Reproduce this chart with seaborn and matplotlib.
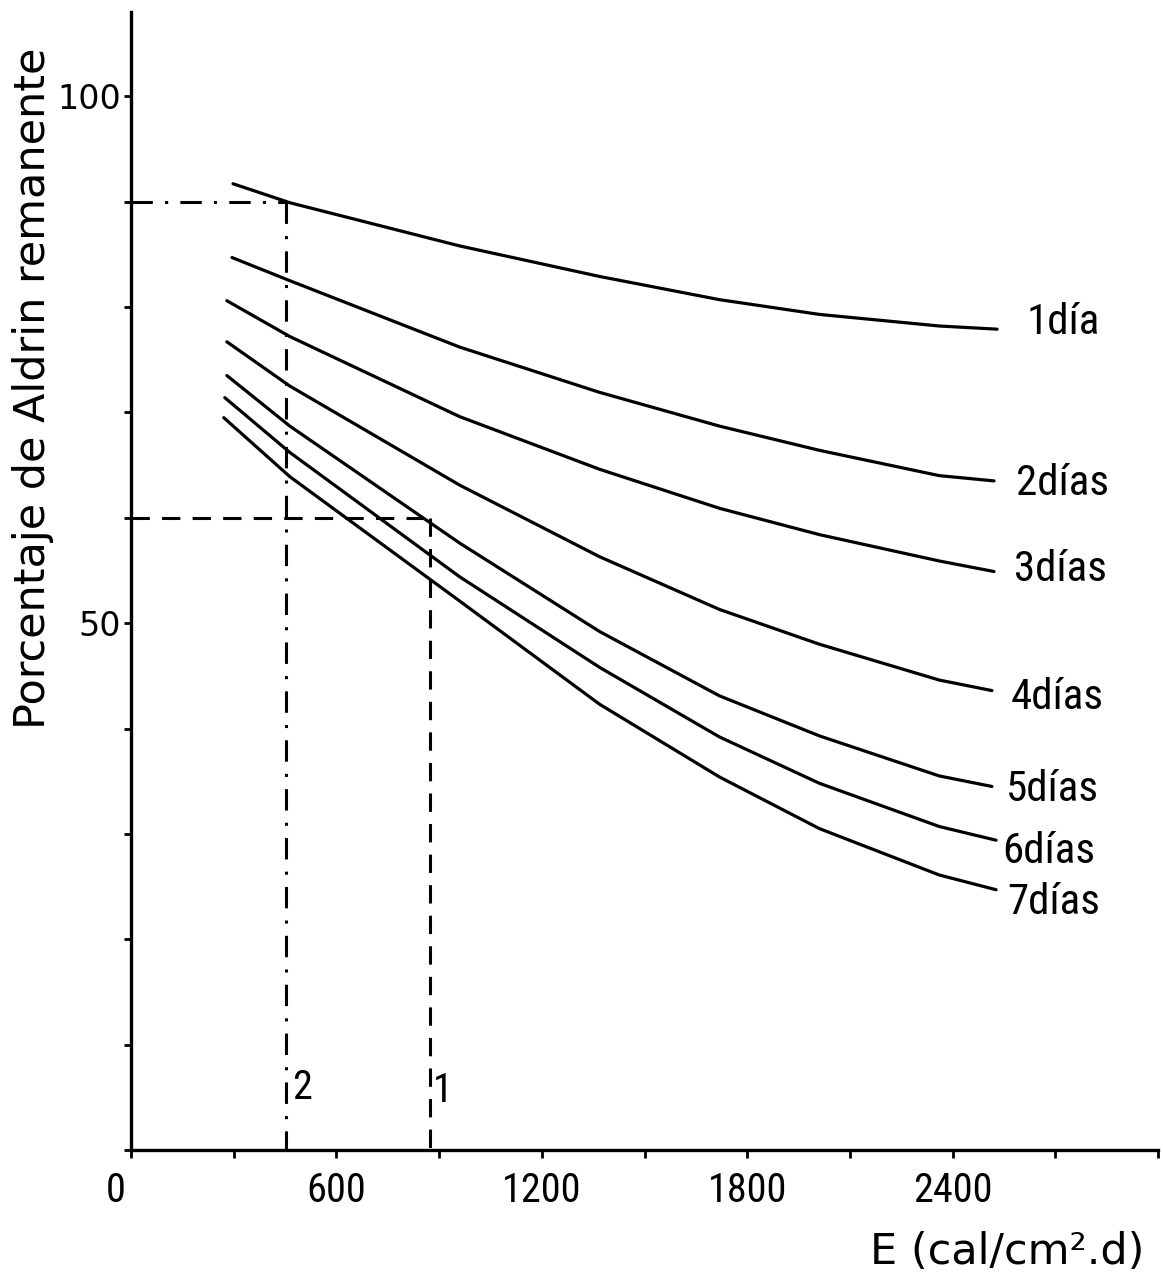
import numpy as np
import pandas as pd
import matplotlib
matplotlib.use("Agg")
import matplotlib.pyplot as plt
import seaborn as sns
from matplotlib.ticker import MultipleLocator
from matplotlib.transforms import ScaledTranslation
from matplotlib import font_manager

# ---------------- data ----------------
curve_labels = ["1día", "2días", "3días", "4días", "5días", "6días", "7días"]
energy_start = [298, 295, 280, 280, 280, 274, 271]
energy_mid = [464, 960, 1369, 1719, 2011, 2361]
energy_end = [2530, 2521, 2521, 2515, 2515, 2527, 2527]

dia1 = [91.7, 89.9, 85.8, 82.9, 80.7, 79.3, 78.2, 77.9]
dia2 = [84.7, 82.5, 76.2, 71.9, 68.7, 66.4, 64.0, 63.5]
dia3 = [80.6, 77.2, 69.6, 64.6, 60.9, 58.4, 55.9, 54.9]
dia4 = [76.7, 72.5, 63.1, 56.3, 51.3, 48.0, 44.6, 43.6]
dia5 = [73.5, 68.7, 57.6, 49.2, 43.1, 39.3, 35.5, 34.5]
dia6 = [71.4, 66.2, 54.4, 45.8, 39.2, 34.8, 30.7, 29.4]
dia7 = [69.5, 63.9, 52.1, 42.3, 35.4, 30.5, 26.1, 24.7]
all_curves = [dia1, dia2, dia3, dia4, dia5, dia6, dia7]

label_x = [2615, 2585, 2580, 2571, 2556, 2544, 2559]
label_y = [78.5, 63.3, 55.1, 42.9, 34.2, 28.3, 23.5]

# reference lines: 1 (dashed) and 2 (dash-dot)
ref1_energy = 872
ref1_pct = 60
ref2_energy = 452
ref2_pct = 90
ref_text = ["1", "2"]
ref_text_x = [910, 499]
ref_text_y = [5.6, 5.9]

x_major = [0, 600, 1200, 1800, 2400]
x_major_labels = ["0", "600", "1200", "1800", "2400"]
y_major = [50, 100]
y_major_labels = ["50", "100"]

# ---------------- build table ----------------
rows = []
for lab, es, ee, vals in zip(curve_labels, energy_start, energy_end, all_curves):
    es_all = [es] + energy_mid + [ee]
    for e, v in zip(es_all, vals):
        rows.append({"E": e, "pct": v, "curva": lab})
df = pd.DataFrame(rows)

# ---------------- style ----------------
sns.set_theme(style="ticks")
names = {f.name for f in font_manager.fontManager.ttflist}
narrow = None
for cand in ["Liberation Sans Narrow", "Roboto Condensed", "Open Sans Condensed",
             "DejaVu Sans Condensed", "Noto Sans Condensed"]:
    if cand in names:
        narrow = cand
        break
plt.rcParams["font.family"] = ["DejaVu Sans"]
for k in ["text.color", "axes.labelcolor", "xtick.color", "ytick.color", "axes.edgecolor"]:
    plt.rcParams[k] = "black"

if narrow:
    nfam = [narrow, "DejaVu Sans"]
    tick_size = 29
    lab_size = 31
    ref_size = 29
else:
    nfam = ["DejaVu Sans"]
    tick_size = 23
    lab_size = 24
    ref_size = 23

W, H = 1163, 1280
fig = plt.figure(figsize=(W / 100, H / 100), dpi=100)
ax = fig.add_axes([131 / W, 1 - 1150 / H, (1158 - 131) / W, (1150 - 12) / H])

sns.lineplot(data=df, x="E", y="pct", hue="curva", units="curva", estimator=None,
             sort=False, palette=["black"] * 7, linewidth=2.3, legend=False, ax=ax)

# reference lines
ax.plot([0, ref1_energy], [ref1_pct, ref1_pct], color="black", lw=2.2,
        linestyle=(0, (6, 4)))
ax.plot([ref1_energy, ref1_energy], [ref1_pct, 0], color="black", lw=2.2,
        linestyle=(0, (6, 4)))
ax.plot([0, ref2_energy], [ref2_pct, ref2_pct], color="black", lw=2.2,
        linestyle=(0, (7, 4, 1, 4)))
ax.plot([ref2_energy, ref2_energy], [ref2_pct, 0], color="black", lw=2.2,
        linestyle=(0, (7, 4, 1, 4)))

for t, x, y in zip(ref_text, ref_text_x, ref_text_y):
    ax.text(x, y, t, ha="center", va="center", fontsize=ref_size, family=nfam,
            color="black")

for t, x, y in zip(curve_labels, label_x, label_y):
    ax.text(x, y, t, ha="left", va="center", fontsize=lab_size, family=nfam,
            color="black")

ax.set_xlim(0, 3000)
ax.set_ylim(0, 108)
ax.set_xticks(x_major)
ax.set_xticklabels(x_major_labels, fontsize=tick_size, family=nfam, color="black")
ax.xaxis.set_minor_locator(MultipleLocator(300))
ax.set_yticks(y_major)
ax.set_yticklabels(y_major_labels, fontsize=24, color="black")
ax.yaxis.set_minor_locator(MultipleLocator(10))
ax.tick_params(axis="x", which="both", direction="out", length=6, width=2, pad=9,
               colors="black")
ax.tick_params(axis="y", which="both", direction="out", length=5, width=2, pad=2,
               colors="black")

lbl0 = ax.get_xticklabels()[0]
lbl0.set_transform(lbl0.get_transform() + ScaledTranslation(-0.15, 0, fig.dpi_scale_trans))

for s in ["top", "right"]:
    ax.spines[s].set_visible(False)
for s in ["left", "bottom"]:
    ax.spines[s].set_linewidth(2.4)
    ax.spines[s].set_color("black")

ax.set_xlabel("")
ax.set_ylabel("")
fig.text(33 / W, 1 - 388 / H, "Porcentaje de Aldrin remanente", rotation=90,
         ha="center", va="center", fontsize=31, color="black")
fig.text(1007 / W, 1 - 1252 / H, "E (cal/cm².d)", ha="center", va="center",
         fontsize=31, color="black")

fig.savefig("out.png", dpi=100, facecolor="white")
